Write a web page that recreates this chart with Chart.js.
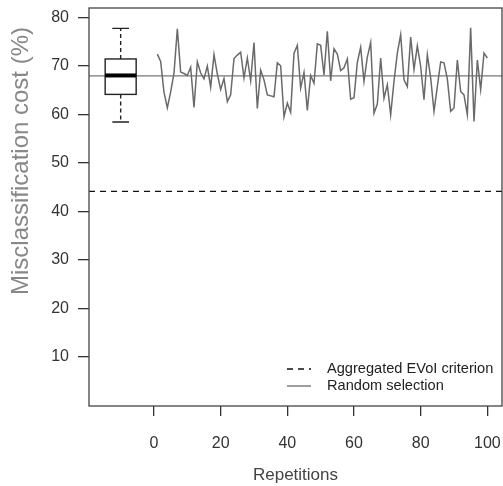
<!DOCTYPE html>
<html>
<head>
<meta charset="utf-8">
<script src="https://cdn.jsdelivr.net/npm/chart.js@4"></script>
<style>
body { margin: 0; background: #fff; }
</style>
</head>
<body>
<canvas id="myChart" width="503" height="486"></canvas>
<script>
const ctx = document.getElementById('myChart');

// values
const repetitions = Array.from({ length: 100 }, (_, i) => i + 1);
const randomCost = [
    72.4, 70.9, 64.5, 61.3, 64.6, 68.5, 77.6, 68.7, 68.4, 68.0,
    69.7, 61.4, 70.8, 68.5, 67.3, 69.9, 65.6, 72.3, 68.3, 65.1,
    67.4, 62.6, 64.0, 71.5, 72.2, 72.8, 67.5, 71.6, 66.9, 74.8,
    61.2, 69.1, 67.1, 64.0, 63.8, 63.6, 70.6, 70.0, 59.5, 62.3,
    60.4, 72.6, 74.2, 65.4, 68.6, 60.8, 68.0, 66.4, 74.5, 74.2,
    68.1, 77.1, 66.9, 73.5, 72.4, 69.0, 69.6, 71.4, 63.1, 63.4,
    70.7, 73.8, 66.8, 71.8, 74.8, 60.2, 62.1, 71.6, 63.3, 66.1,
    59.9, 66.8, 72.6, 76.4, 67.1, 65.7, 75.9, 69.2, 74.1, 69.9,
    63.0, 72.3, 67.5, 60.6, 65.7, 70.8, 70.6, 67.3, 60.6, 61.3,
    71.2, 64.7, 64.0, 59.9, 77.8, 58.5, 71.2, 65.1, 72.6, 71.6
];
const evoiCost = 44.1;
const meanRandomCost = 67.9;
// min, lower quartile, median, upper quartile, max
const boxStats = [58.4, 64.1, 68.0, 71.4, 77.7];
const boxPosition = -10;
const xTicks = [0, 20, 40, 60, 80, 100];
const yTicks = [10, 20, 30, 40, 50, 60, 70, 80];
const seriesLabels = ['Aggregated EVoI criterion', 'Random selection'];
const yTitle = 'Misclassification cost (%)';

const xMin = -19.5, xMax = 104.4;
const yMin = -0.1, yMax = 81.9;
const fontFamily = '"Liberation Sans", Arial, sans-serif';

const framePlugin = {
    id: 'frame',
    afterDatasetsDraw(chart) {
        const c = chart.ctx;
        const x = chart.scales.x;
        const y = chart.scales.y;
        const cx = x.getPixelForValue(boxPosition);
        const half = Math.abs(x.getPixelForValue(boxPosition + 4.65) - cx);
        const cap = Math.abs(x.getPixelForValue(boxPosition + 2.5) - cx);
        const [lo, q1, med, q3, hi] = boxStats.map(v => y.getPixelForValue(v));
        c.save();
        c.strokeStyle = '#222';
        c.lineWidth = 1.4;
        c.setLineDash([4, 3]);
        c.beginPath();
        c.moveTo(cx, q3); c.lineTo(cx, hi);
        c.moveTo(cx, q1); c.lineTo(cx, lo);
        c.stroke();
        c.setLineDash([]);
        c.beginPath();
        c.moveTo(cx - cap, hi); c.lineTo(cx + cap, hi);
        c.moveTo(cx - cap, lo); c.lineTo(cx + cap, lo);
        c.stroke();
        c.strokeRect(cx - half, q3, half * 2, q1 - q3);
        c.lineWidth = 4;
        c.strokeStyle = '#000';
        c.beginPath();
        c.moveTo(cx - half, med); c.lineTo(cx + half, med);
        c.stroke();
        c.restore();
    },
    afterDraw(chart) {
        const c = chart.ctx;
        const a = chart.chartArea;
        c.save();
        c.strokeStyle = '#444';
        c.lineWidth = 1.3;
        c.strokeRect(a.left, a.top, a.right - a.left, a.bottom - a.top);

        // y axis title
        c.save();
        c.translate(21, 161);
        c.rotate(-Math.PI / 2);
        c.font = '24px ' + fontFamily;
        c.fillStyle = '#888';
        c.textAlign = 'center';
        c.textBaseline = 'middle';
        c.fillText(yTitle, 0, 0);
        c.restore();

        // legend
        const sets = chart.data.datasets;
        c.font = '14.6px ' + fontFamily;
        c.textBaseline = 'middle';
        c.fillStyle = '#222';
        [0, 1].forEach(i => {
            const ds = sets[i];
            const yy = 369 + i * 17;
            c.strokeStyle = ds.borderColor;
            c.lineWidth = 1.3;
            c.setLineDash(ds.borderDash || []);
            c.beginPath();
            c.moveTo(287, yy); c.lineTo(311, yy);
            c.stroke();
            c.setLineDash([]);
            c.fillText(ds.label, 327, yy);
        });
        c.restore();
    }
};

new Chart(ctx, {
    type: 'scatter',
    data: {
        datasets: [{
            label: seriesLabels[0],
            data: [{ x: xMin, y: evoiCost }, { x: xMax, y: evoiCost }],
            showLine: true,
            borderColor: '#111',
            borderWidth: 1.3,
            borderDash: [6, 5],
            pointRadius: 0
        }, {
            label: seriesLabels[1],
            data: repetitions.map((r, i) => ({ x: r, y: randomCost[i] })),
            showLine: true,
            borderColor: '#6a6a6a',
            borderWidth: 1.5,
            pointRadius: 0,
            tension: 0
        }, {
            label: 'mean',
            data: [{ x: xMin, y: meanRandomCost }, { x: xMax, y: meanRandomCost }],
            showLine: true,
            borderColor: '#777',
            borderWidth: 1.3,
            pointRadius: 0
        }]
    },
    options: {
        responsive: false,
        animation: false,
        layout: { padding: { top: 8, right: 1, left: 0, bottom: 0 } },
        plugins: {
            legend: { display: false },
            tooltip: { enabled: false }
        },
        scales: {
            x: {
                type: 'linear',
                min: xMin,
                max: xMax,
                afterBuildTicks: s => { s.ticks = xTicks.map(v => ({ value: v })); },
                afterFit: s => { s.height = 80; s.paddingLeft = 0; s.paddingRight = 0; },
                grid: { drawOnChartArea: false, tickLength: 10, color: '#333', lineWidth: 1.3 },
                border: { display: false },
                ticks: { color: '#333', padding: 18, font: { size: 16, family: fontFamily } },
                title: {
                    display: true,
                    text: 'Repetitions',
                    color: '#444',
                    font: { size: 17, family: fontFamily },
                    padding: { top: 0, bottom: 0 }
                }
            },
            y: {
                min: yMin,
                max: yMax,
                afterBuildTicks: s => { s.ticks = yTicks.map(v => ({ value: v })); },
                afterFit: s => { s.width = 89; s.paddingTop = 0; s.paddingBottom = 0; },
                grid: { drawOnChartArea: false, tickLength: 11, color: '#333', lineWidth: 1.3 },
                border: { display: false },
                ticks: { color: '#333', padding: 9, font: { size: 16, family: fontFamily } }
            }
        }
    },
    plugins: [framePlugin]
});
</script>
</body>
</html>
